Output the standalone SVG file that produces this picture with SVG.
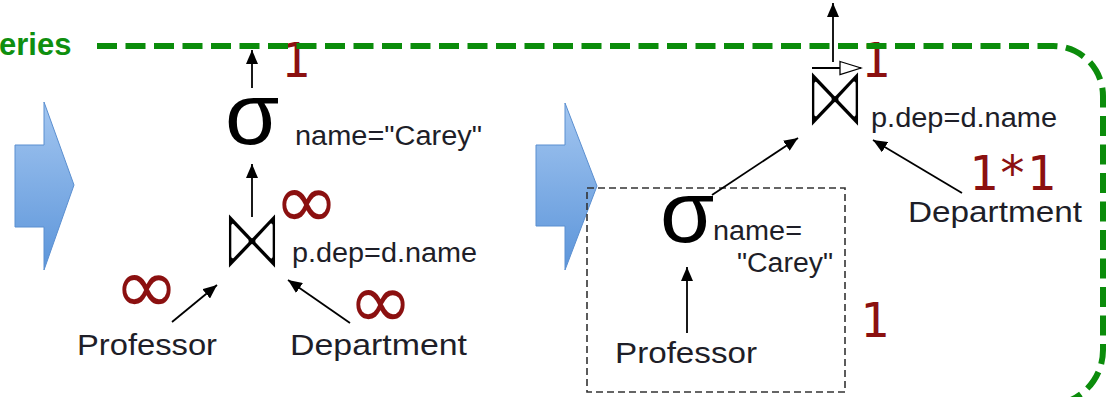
<svg xmlns="http://www.w3.org/2000/svg" width="1113" height="397" viewBox="0 0 1113 397">
<defs>
<linearGradient id="blue" x1="0" y1="0" x2="0" y2="1">
<stop offset="0" stop-color="#a3c6f0"/>
<stop offset="1" stop-color="#5c95da"/>
</linearGradient>
<marker id="ah" markerUnits="userSpaceOnUse" markerWidth="14" markerHeight="12" refX="14" refY="6" orient="auto" viewBox="0 0 14 12">
<path d="M0,0 L14,6 L0,12 z" fill="#000"/>
</marker>
<marker id="hollow" markerUnits="userSpaceOnUse" markerWidth="24" markerHeight="16" refX="22" refY="8" orient="auto" viewBox="0 0 24 16">
<path d="M1,1.5 L22,8 L1,14.5 z" fill="#fff" stroke="#000" stroke-width="1.3"/>
</marker>
</defs>
<style>
.t{font-family:"Liberation Sans",Arial,sans-serif;fill:#1e1e28}
.lab{font-size:30px}
.sub{font-size:27px}
.sig{font-family:"Liberation Sans",Arial,sans-serif;font-size:88px;fill:#000}
.red{font-family:"DejaVu Sans Mono",monospace;font-size:48px;fill:#8b1010}
.inf{font-family:"DejaVu Sans",sans-serif;font-size:78px;fill:#8b1010}
.bow{font-family:"DejaVu Sans",sans-serif;font-size:72px;fill:#000;stroke:#fff;stroke-width:3.4;stroke-linejoin:round;text-anchor:middle}
.arr{fill:url(#blue);stroke:#5b8fd0;stroke-width:1}
.c{stroke:#000;stroke-width:1.8;fill:none}
.box{fill:none;stroke:#333;stroke-width:1.6;stroke-dasharray:7 4}
.green{fill:none;stroke:#0b8c0b;stroke-width:6;stroke-dasharray:20 8.5}
</style>
<rect width="1113" height="397" fill="#fff"/>

<g id="title">
<text x="-1" y="55" font-family="Liberation Sans,Arial,sans-serif" font-weight="bold" font-size="31" fill="#0f8f0f">eries</text>
</g>

<g id="arrow-left"><polygon class="arr" points="15,145 44,145 44,102 74,185 44,270 44,227 15,227"/></g>
<g id="arrow-right"><polygon class="arr" points="536,145 565,145 565,103 597,186 565,270 565,226 536,226"/></g>

<g id="card-labels">
<text class="red" x="281" y="77">1</text>
<text class="red" x="861" y="77">1</text>
<text class="red" x="969" y="190">1*1</text>
<text class="red" x="860" y="337">1</text>
<text class="inf" x="274" y="228">∞</text>
<text class="inf" x="114" y="313">∞</text>
<text class="inf" x="348" y="328">∞</text>
</g>

<g id="boundary"><path class="green" d="M97,46 H1053 A50,50 0 0 1 1103,96 V350 A55,55 0 0 1 1048,405"/></g>

<g id="pushdown-box"><rect class="box" x="587" y="188" width="258" height="204"/></g>

<g id="left-select">
<text class="sig" x="225" y="144">σ</text>
<text class="t sub" x="295" y="145" textLength="187" lengthAdjust="spacingAndGlyphs">name="Carey"</text>
</g>
<g id="left-join">
<text class="bow" transform="translate(252,242.5) scale(0.86,1.24)" x="0" y="21.5" vector-effect="non-scaling-stroke">⋈</text>
<text class="t sub" x="292" y="262" textLength="185" lengthAdjust="spacingAndGlyphs">p.dep=d.name</text>
</g>
<g id="left-professor"><text class="t lab" x="77" y="355" textLength="140" lengthAdjust="spacingAndGlyphs">Professor</text></g>
<g id="left-department"><text class="t lab" x="290" y="355" textLength="177" lengthAdjust="spacingAndGlyphs">Department</text></g>

<g id="right-join">
<text class="bow" transform="translate(835,100) scale(0.86,1.24)" x="0" y="21.5" vector-effect="non-scaling-stroke">⋈</text>
<text class="t sub" x="871" y="127" textLength="186" lengthAdjust="spacingAndGlyphs">p.dep=d.name</text>
</g>
<g id="right-select">
<text class="sig" x="660" y="242">σ</text>
<text class="t sub" x="713" y="240" textLength="89" lengthAdjust="spacingAndGlyphs">name=</text>
<text class="t sub" x="737" y="272" textLength="96" lengthAdjust="spacingAndGlyphs">"Carey"</text>
</g>
<g id="right-professor"><text class="t lab" x="615" y="363" textLength="142" lengthAdjust="spacingAndGlyphs">Professor</text></g>
<g id="right-department"><text class="t lab" x="908" y="222" textLength="174" lengthAdjust="spacingAndGlyphs">Department</text></g>

<g id="connectors">
<line class="c" x1="252" y1="88" x2="252" y2="50" marker-end="url(#ah)"/>
<line class="c" x1="252" y1="217" x2="252" y2="164" marker-end="url(#ah)"/>
<line class="c" x1="172" y1="322" x2="217" y2="285" stroke-width="1.5" marker-end="url(#ah)"/>
<line class="c" x1="350" y1="323" x2="288" y2="280" stroke-width="1.5" marker-end="url(#ah)"/>
<line class="c" x1="833" y1="62" x2="833" y2="3" stroke-width="1.5" marker-end="url(#ah)"/>
<line class="c" x1="812" y1="68" x2="861" y2="68" stroke-width="1.5" marker-end="url(#hollow)"/>
<line class="c" x1="712" y1="195" x2="798" y2="138" stroke-width="1.5" marker-end="url(#ah)"/>
<line class="c" x1="962" y1="193" x2="873" y2="140" stroke-width="1.5" marker-end="url(#ah)"/>
<line class="c" x1="687" y1="333" x2="687" y2="267" stroke-width="1.5" marker-end="url(#ah)"/>
</g>
</svg>
